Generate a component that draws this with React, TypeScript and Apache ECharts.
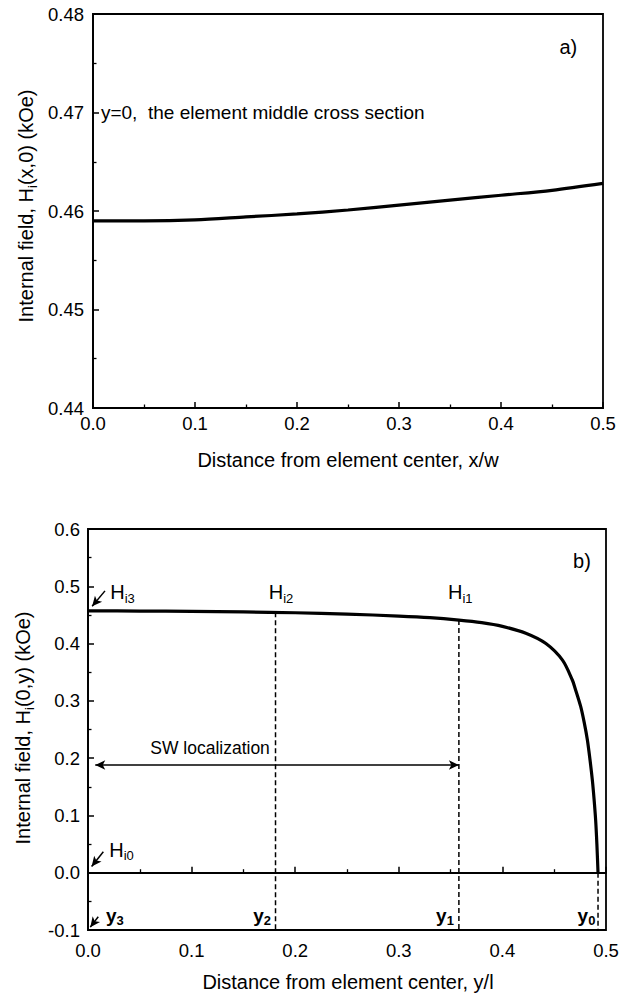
import React, { useEffect, useRef } from "react";
import * as echarts from "echarts";

const FONT = "'Liberation Sans', Arial, Helvetica, sans-serif";

// ---- panel a): H_i(x,0) vs x/w ----
const aX = [0, 0.05, 0.1, 0.15, 0.2, 0.25, 0.3, 0.35, 0.4, 0.45, 0.5];
const aH = [0.459, 0.459, 0.4591, 0.4594, 0.4597, 0.4601, 0.4606, 0.4611, 0.4616, 0.4621, 0.4628];
const aXRange = [0, 0.5, 0.1];
const aYRange = [0.44, 0.48, 0.01];

// ---- panel b): H_i(0,y) vs y/l ----
const bY = [0, 0.05, 0.1, 0.15, 0.2, 0.25, 0.3, 0.33, 0.358, 0.38, 0.4, 0.4226, 0.442, 0.458, 0.4676, 0.47, 0.4756, 0.479, 0.482, 0.4845, 0.4868, 0.4885, 0.49, 0.4912, 0.4923];
const bH = [0.457, 0.4568, 0.4562, 0.4553, 0.4538, 0.4515, 0.448, 0.4452, 0.441, 0.4365, 0.43, 0.418, 0.4, 0.371, 0.336, 0.323, 0.29, 0.262, 0.232, 0.198, 0.162, 0.128, 0.092, 0.05, 0];
const bXRange = [0, 0.5, 0.1];
const bYRange = [-0.1, 0.6, 0.1];

// dashed cut positions y2, y1, y0 and the field level where each starts
const cutPos = [0.181, 0.358, 0.4923];
const cutTop = [0.4545, 0.441, 0];
const cutNames = ["2", "1", "0"];
const cutLabelX = [0.168, 0.3446, 0.4812];
const cutLabelY = -0.074;

// SW localization arrow
const swFrom = 0.007;
const swTo = 0.358;
const swLevel = 0.188;

// H_i labels [main, sub, x, y]
const hLabels: [string, string, number, number][] = [
  ["H", "i3", 0.0215, 0.49],
  ["H", "i2", 0.1745, 0.49],
  ["H", "i1", 0.3475, 0.49],
  ["H", "i0", 0.0205, 0.04],
];
// small pointer arrows [x1, y1, x2, y2]
const pointers = [
  [0.0164, 0.492, 0.004, 0.465],
  [0.0148, 0.0367, 0.0035, 0.011],
  [0.0099, -0.0768, 0.0022, -0.095],
];

const measure = (() => {
  let ctx: CanvasRenderingContext2D | null = null;
  return (text: string, size: number, weight = "normal") => {
    if (!ctx) ctx = document.createElement("canvas").getContext("2d");
    if (!ctx) return text.length * size * 0.5;
    ctx.font = `${weight} ${size}px ${FONT}`;
    return ctx.measureText(text).width;
  };
})();

// build a run of text pieces (with subscripts) as a group
function textRun(
  pieces: { t: string; sub?: boolean }[],
  x: number,
  y: number,
  opts: { size?: number; subSize?: number; weight?: string; align?: string; rotation?: number } = {}
) {
  const size = opts.size ?? 18;
  const subSize = opts.subSize ?? 12;
  const weight = opts.weight ?? "normal";
  const widths = pieces.map((p) => measure(p.t, p.sub ? subSize : size, weight));
  const total = widths.reduce((a, b) => a + b, 0);
  let cx = opts.align === "center" ? -total / 2 : opts.align === "right" ? -total : 0;
  const children: any[] = [];
  pieces.forEach((p, i) => {
    children.push({
      type: "text",
      x: cx,
      y: p.sub ? size * 0.3 : 0,
      silent: true,
      style: {
        text: p.t,
        fill: "#000",
        fontSize: p.sub ? subSize : size,
        fontFamily: FONT,
        fontWeight: weight,
        align: "left",
        verticalAlign: "middle",
        textAlign: "left",
        textVerticalAlign: "middle",
      },
    });
    cx += widths[i];
  });
  return { type: "group", x, y, rotation: opts.rotation ?? 0, silent: true, children };
}

const axisCommon = {
  axisLine: { show: true, lineStyle: { color: "#000", width: 1.8 } },
  axisTick: { show: true, inside: true, length: 6, lineStyle: { color: "#000", width: 1.5 } },
  minorTick: { show: true, splitNumber: 2, length: 3.5, lineStyle: { color: "#000", width: 1.3 } },
  splitLine: { show: false },
  axisLabel: { color: "#000", fontSize: 18.5, fontFamily: FONT },
};

export default function App() {
  const ref = useRef<HTMLDivElement>(null);
  useEffect(() => {
    if (!ref.current) return;
    const chart = echarts.init(ref.current, undefined, { renderer: "svg" });
    const option: any = {
      animation: false,
      backgroundColor: "#fff",
      grid: [
        { left: 93, top: 14, width: 510, height: 394, show: true, borderColor: "#000", borderWidth: 1.8, backgroundColor: "transparent" },
        { left: 88, top: 529, width: 518, height: 401, show: true, borderColor: "#000", borderWidth: 1.8, backgroundColor: "transparent" },
      ],
      xAxis: [
        {
          ...axisCommon,
          type: "value",
          gridIndex: 0,
          min: aXRange[0],
          max: aXRange[1],
          interval: aXRange[2],
          axisLabel: { ...axisCommon.axisLabel, margin: 6, formatter: (v: number) => v.toFixed(1) },
        },
        {
          ...axisCommon,
          type: "value",
          gridIndex: 1,
          min: bXRange[0],
          max: bXRange[1],
          interval: bXRange[2],
          axisLabel: { ...axisCommon.axisLabel, margin: 11, formatter: (v: number) => v.toFixed(1) },
        },
      ],
      yAxis: [
        {
          ...axisCommon,
          type: "value",
          gridIndex: 0,
          min: aYRange[0],
          max: aYRange[1],
          interval: aYRange[2],
          axisLabel: { ...axisCommon.axisLabel, margin: 9, formatter: (v: number) => v.toFixed(2) },
        },
        {
          ...axisCommon,
          type: "value",
          gridIndex: 1,
          min: bYRange[0],
          max: bYRange[1],
          interval: bYRange[2],
          axisLabel: { ...axisCommon.axisLabel, margin: 8, formatter: (v: number) => (Math.abs(v) < 1e-9 ? "0.0" : v.toFixed(1)) },
        },
      ],
      series: [
        {
          type: "line",
          xAxisIndex: 0,
          yAxisIndex: 0,
          data: aX.map((x, i) => [x, aH[i]]),
          smooth: 0.3,
          symbol: "none",
          lineStyle: { color: "#000", width: 3.2 },
          silent: true,
        },
        {
          type: "line",
          xAxisIndex: 1,
          yAxisIndex: 1,
          data: bY.map((y, i) => [y, bH[i]]),
          smooth: 0.3,
          symbol: "none",
          lineStyle: { color: "#000", width: 3.2, join: "round" },
          silent: true,
          markLine: {
            silent: true,
            symbol: ["none", "arrow"],
            symbolSize: [7, 10],
            label: { show: false },
            lineStyle: { color: "#000", width: 1.5, type: "solid" },
            data: pointers.map((p) => [{ coord: [p[0], p[1]] }, { coord: [p[2], p[3]] }]),
          },
        },
        {
          type: "line",
          xAxisIndex: 1,
          yAxisIndex: 1,
          data: [
            [bXRange[0], 0],
            [bXRange[1], 0],
          ],
          symbol: "none",
          lineStyle: { color: "#000", width: 1.4 },
          silent: true,
          markLine: {
            silent: true,
            symbol: ["arrow", "arrow"],
            symbolSize: [7, 10],
            label: { show: false },
            lineStyle: { color: "#000", width: 1.5, type: "solid" },
            data: [[{ coord: [swFrom, swLevel] }, { coord: [swTo, swLevel] }]],
          },
        },
        ...cutPos.map((c, i) => ({
          type: "line",
          xAxisIndex: 1,
          yAxisIndex: 1,
          data: [
            [c, cutTop[i]],
            [c, bYRange[0]],
          ],
          symbol: "none",
          lineStyle: { color: "#000", width: 1.5, type: [5, 3] },
          silent: true,
        })),
      ],
    };
    chart.setOption(option);

    const px = (g: number, x: number, y: number) => chart.convertToPixel({ gridIndex: g } as any, [x, y]) as number[];

    const graphics: any[] = [];
    // axis titles
    graphics.push(textRun([{ t: "Distance from element center, x/w" }], 348, 460, { size: 20, align: "center" }));
    graphics.push(textRun([{ t: "Distance from element center, y/l" }], 348, 982, { size: 20, align: "center" }));
    graphics.push(
      textRun([{ t: "Internal field, H" }, { t: "i", sub: true }, { t: "(x,0) (kOe)" }], 26, 206, {
        size: 20,
        subSize: 13,
        align: "center",
        rotation: Math.PI / 2,
      })
    );
    graphics.push(
      textRun([{ t: "Internal field, H" }, { t: "i", sub: true }, { t: "(0,y) (kOe)" }], 23, 728, {
        size: 20,
        subSize: 13,
        align: "center",
        rotation: Math.PI / 2,
      })
    );
    // panel a annotations
    let p = px(0, 0.466, 0.4766);
    graphics.push(textRun([{ t: "a)" }], p[0], p[1], { size: 20, align: "center" }));
    p = px(0, 0.0078, 0.47);
    graphics.push(textRun([{ t: "y=0,  the element middle cross section" }], p[0], p[1], { size: 19 }));
    // panel b annotations
    p = px(1, 0.4768, 0.544);
    graphics.push(textRun([{ t: "b)" }], p[0], p[1], { size: 20, align: "center" }));
    p = px(1, 0.1178, 0.2176);
    graphics.push(textRun([{ t: "SW localization" }], p[0], p[1], { size: 17.5, align: "center" }));
    hLabels.forEach((h) => {
      const q = px(1, h[2], h[3]);
      graphics.push(textRun([{ t: h[0] }, { t: h[1], sub: true }], q[0], q[1], { size: 20, subSize: 13 }));
    });
    cutNames.forEach((n, i) => {
      const q = px(1, cutLabelX[i], cutLabelY);
      graphics.push(
        textRun([{ t: "y" }, { t: n, sub: true }], q[0], q[1], { size: 19, subSize: 13, weight: "bold", align: "center" })
      );
    });
    p = px(1, 0.0174, cutLabelY);
    graphics.push(textRun([{ t: "y" }, { t: "3", sub: true }], p[0], p[1], { size: 19, subSize: 13, weight: "bold" }));

    chart.setOption({ graphic: graphics });
    return () => chart.dispose();
  }, []);
  return <div ref={ref} style={{ position: "absolute", left: 0, top: 0, width: 623, height: 998, background: "#fff" }} />;
}
